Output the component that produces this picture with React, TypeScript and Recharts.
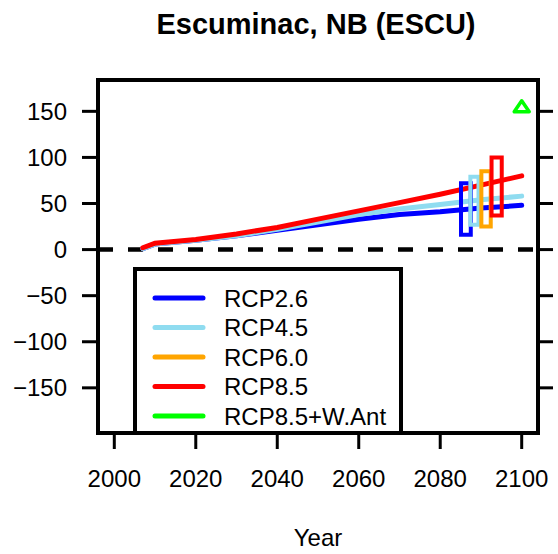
import {
  ComposedChart,
  Line,
  ReferenceArea,
  ReferenceLine,
  Scatter,
  XAxis,
  YAxis,
} from 'recharts';

const TITLE = 'Escuminac, NB (ESCU)';
const X_LABEL = 'Year';

const YEARS = [2007, 2010, 2020, 2030, 2040, 2050, 2060, 2070, 2080, 2090, 2100];
const RCP26 = [1, 6, 10, 15, 21, 27, 33, 38, 41, 45, 48];
const RCP45 = [1, 6, 10, 15, 22, 30, 38, 44, 49, 54, 58];
const RCP85 = [2, 7, 11, 17, 24, 33, 42, 51, 60, 70, 80];

// 2100 ranges drawn as open boxes
const BOX_NAMES = ['RCP2.6', 'RCP4.5', 'RCP6.0', 'RCP8.5'];
const BOX_X1 = [2085.1, 2087.4, 2090.1, 2092.6];
const BOX_X2 = [2087.5, 2089.4, 2092.4, 2095.1];
const BOX_LOW = [16, 27, 25, 37];
const BOX_HIGH = [72, 79, 85, 100];

const WANT_YEAR = [2100];
const WANT_VALUE = [155];

const LEGEND_NAMES = ['RCP2.6', 'RCP4.5', 'RCP6.0', 'RCP8.5', 'RCP8.5+W.Ant'];
const COLORS = ['#0000ff', '#8fdcf0', '#ffa500', '#ff0000', '#00ff00'];

const X_TICKS = [2000, 2020, 2040, 2060, 2080, 2100];
const Y_TICKS = [-150, -100, -50, 0, 50, 100, 150];
const X_DOMAIN: [number, number] = [1996, 2104];
const Y_DOMAIN: [number, number] = [-199, 184];

const FONT = '"Liberation Sans", Arial, sans-serif';
const TICK = { fill: '#000', fontSize: 24, fontFamily: FONT };
const TICK_LINE = { stroke: '#000', strokeWidth: 3 };

const lineData = YEARS.map((year, i) => ({
  year,
  rcp26: RCP26[i],
  rcp45: RCP45[i],
  rcp85: RCP85[i],
}));
const wantData = WANT_YEAR.map((year, i) => ({ year, value: WANT_VALUE[i] }));

const minus = (v: number) => String(v).replace('-', '\u2212');

function Triangle(props: any) {
  const { cx, cy } = props;
  return (
    <polygon
      points={`${cx},${cy - 6} ${cx - 7.5},${cy + 5} ${cx + 7.5},${cy + 5}`}
      fill="none"
      stroke={COLORS[4]}
      strokeWidth={3.5}
      strokeLinejoin="round"
    />
  );
}

function LegendBox() {
  return (
    <svg
      width={280}
      height={180}
      style={{ position: 'absolute', left: 125, top: 260, overflow: 'visible' }}
    >
      <rect x={10} y={9} width={266} height={164} fill="none" stroke="#000" strokeWidth={4} />
      {LEGEND_NAMES.map((name, i) => {
        const y = 38 + i * 29.5;
        return (
          <g key={name}>
            <line x1={30} x2={78} y1={y} y2={y} stroke={COLORS[i]} strokeWidth={5} strokeLinecap="round" />
            <text x={99} y={y + 8.5} fontSize={24} fontFamily={FONT} fill="#000">
              {name}
            </text>
          </g>
        );
      })}
    </svg>
  );
}

export default function App() {
  return (
    <div style={{ position: 'absolute', left: 0, top: 0, width: 558, height: 554, background: '#fff' }}>
      <svg width={558} height={60} style={{ position: 'absolute', left: 0, top: 0 }}>
        <text x={316} y={34} textAnchor="middle" fontSize={29} fontWeight="bold" fontFamily={FONT} fill="#000">
          {TITLE}
        </text>
      </svg>
      <ComposedChart width={558} height={554} margin={{ top: 80, right: 0, bottom: 0, left: 0 }}>
        <XAxis
          type="number"
          dataKey="year"
          domain={X_DOMAIN}
          ticks={X_TICKS}
          allowDataOverflow
          height={121}
          axisLine={false}
          tickSize={16}
          tickMargin={21}
          tickLine={TICK_LINE}
          tick={TICK}
          label={{ value: X_LABEL, position: 'insideBottom', offset: 8, fontSize: 24, fontFamily: FONT, fill: '#000' }}
        />
        <YAxis
          type="number"
          domain={Y_DOMAIN}
          ticks={Y_TICKS}
          allowDataOverflow
          width={98}
          axisLine={false}
          tickSize={16}
          tickMargin={15}
          tickLine={TICK_LINE}
          tick={TICK}
          tickFormatter={minus}
        />
        <YAxis
          yAxisId="right"
          orientation="right"
          type="number"
          domain={Y_DOMAIN}
          ticks={Y_TICKS}
          allowDataOverflow
          width={20}
          axisLine={false}
          tickSize={15}
          tickLine={TICK_LINE}
          tickFormatter={() => ''}
        />
        <ReferenceLine y={0} stroke="#000" strokeWidth={4.5} strokeDasharray="15 15" />
        <Line data={lineData} dataKey="rcp26" type="linear" stroke={COLORS[0]} strokeWidth={5} dot={false} strokeLinecap="round" isAnimationActive={false} />
        <Line data={lineData} dataKey="rcp45" type="linear" stroke={COLORS[1]} strokeWidth={5} dot={false} strokeLinecap="round" isAnimationActive={false} />
        <Line data={lineData} dataKey="rcp85" type="linear" stroke={COLORS[3]} strokeWidth={5} dot={false} strokeLinecap="round" isAnimationActive={false} />
        {BOX_NAMES.map((name, i) => (
          <ReferenceArea
            key={name}
            x1={BOX_X1[i]}
            x2={BOX_X2[i]}
            y1={BOX_LOW[i]}
            y2={BOX_HIGH[i]}
            fill="none"
            stroke={COLORS[i]}
            strokeWidth={4}
            zIndex={1000 + i}
          />
        ))}
        <Scatter data={wantData} dataKey="value" shape={Triangle} isAnimationActive={false} />
        <ReferenceArea
          x1={X_DOMAIN[0]}
          x2={X_DOMAIN[1]}
          y1={Y_DOMAIN[0]}
          y2={Y_DOMAIN[1]}
          fill="none"
          stroke="#000"
          strokeWidth={4}
          zIndex={2000}
        />
      </ComposedChart>
      <LegendBox />
    </div>
  );
}
